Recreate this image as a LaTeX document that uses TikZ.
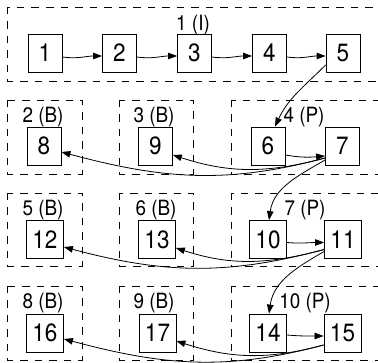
\documentclass[tikz,border=0pt]{standalone}
\usepackage{fontspec}
\setmainfont{TeX Gyre Heros}[FakeStretch=0.9]
\usetikzlibrary{arrows.meta}
\begin{document}
\begin{tikzpicture}[x=1pt,y=1pt,
  box/.style={draw, line width=0.8pt, minimum width=34pt, minimum height=38pt, inner xsep=6pt, inner ysep=0pt, font=\fontsize{25}{25}\selectfont},
  clus/.style={draw, line width=0.8pt, dash pattern=on 7.5pt off 7pt},
  clab/.style={anchor=base, inner sep=0pt, font=\fontsize{21}{21}\selectfont},
  edge/.style={line width=0.8pt, -{Triangle[length=9pt,width=6.5pt]}}
]
\useasboundingbox (0,0) rectangle (378,-363);
\clip (0,0) rectangle (378,-363);
% clusters
\draw[clus] (7,-7) rectangle (384,-81);
\draw[clus] (7,-100) rectangle (82,-174);
\draw[clus] (119,-100) rectangle (193,-174);
\draw[clus] (231,-100) rectangle (384,-174);
\draw[clus] (7,-193) rectangle (82,-266);
\draw[clus] (119,-193) rectangle (193,-266);
\draw[clus] (231,-193) rectangle (384,-266);
\draw[clus] (7,-286) rectangle (82,-360);
\draw[clus] (119,-286) rectangle (193,-360);
\draw[clus] (231,-286) rectangle (384,-360);
% cluster labels
\node[clab] (c1) at (193,-31) {1 (I)};
\node[clab] (c2) at (43,-123) {2 (B)};
\node[clab] (c3) at (154,-123) {3 (B)};
\node[clab] (c4) at (304,-123) {4 (P)};
\node[clab] (c5) at (43,-215.5) {5 (B)};
\node[clab] (c6) at (156,-215.5) {6 (B)};
\node[clab] (c7) at (305,-215.5) {7 (P)};
\node[clab] (c8) at (43,-309) {8 (B)};
\node[clab] (c9) at (154,-309) {9 (B)};
\node[clab] (c10) at (305,-309) {10 (P)};
% boxes
\node[box] (b1) at (45,-53) {1};
\node[box] (b2) at (119.5,-53) {2};
\node[box] (b3) at (194.5,-53) {3};
\node[box] (b4) at (269.5,-53) {4};
\node[box] (b5) at (343,-53) {5};
\node[box] (b8) at (44,-146) {8};
\node[box] (b9) at (155.5,-146) {9};
\node[box] (b6) at (268,-146) {6};
\node[box] (b7) at (342.5,-146) {7};
\node[box] (b12) at (45,-239.5) {12};
\node[box] (b13) at (157,-239.5) {13};
\node[box] (b10) at (268,-239.5) {10};
\node[box] (b11) at (343,-239.5) {11};
\node[box] (b16) at (45,-333) {16};
\node[box] (b17) at (157.5,-333) {17};
\node[box] (b14) at (268,-333) {14};
\node[box] (b15) at (342.5,-333) {15};
% edges
\draw[edge] ([yshift=-4]b1.east) to[out=-8,in=180] ([yshift=-3]b2.west);
\draw[edge] ([yshift=-4]b2.east) to[out=-8,in=180] ([yshift=-3]b3.west);
\draw[edge] ([yshift=-4]b3.east) to[out=-8,in=180] ([yshift=-3]b4.west);
\draw[edge] ([yshift=-4]b4.east) to[out=-8,in=180] ([yshift=-3]b5.west);
\draw[edge] ([yshift=-12]b5.west) to[out=-135,in=65] ([xshift=7]b6.north);
\draw[edge] ([yshift=-9]b6.east) to[out=-10,in=185] ([yshift=-10]b7.west);
\draw[edge] ([yshift=-12]b7.west) to[out=195,in=-15] ([yshift=-6]b8.east);
\draw[edge] ([yshift=-12]b7.west) to[out=195,in=-18] ([yshift=-9]b9.east);
\draw[edge] ([yshift=-14]b7.west) to[out=-150,in=82] ([xshift=1]b10.north);
\draw[edge] ([yshift=-3]b10.east) to[out=-5,in=180] ([yshift=-3]b11.west);
\draw[edge] ([yshift=-10]b11.west) to[out=195,in=-15] ([yshift=-7.5]b12.east);
\draw[edge] ([yshift=-10]b11.west) to[out=195,in=-18] ([yshift=-8.5]b13.east);
\draw[edge] ([yshift=-12]b11.west) to[out=-150,in=82] ([xshift=1]b14.north);
\draw[edge] ([yshift=-2]b14.east) to[out=-5,in=180] ([yshift=-3]b15.west);
\draw[edge] ([yshift=-12]b15.west) to[out=195,in=-15] ([yshift=-6]b16.east);
\draw[edge] ([yshift=-12]b15.west) to[out=195,in=-18] ([yshift=-8]b17.east);
\end{tikzpicture}
\end{document}
